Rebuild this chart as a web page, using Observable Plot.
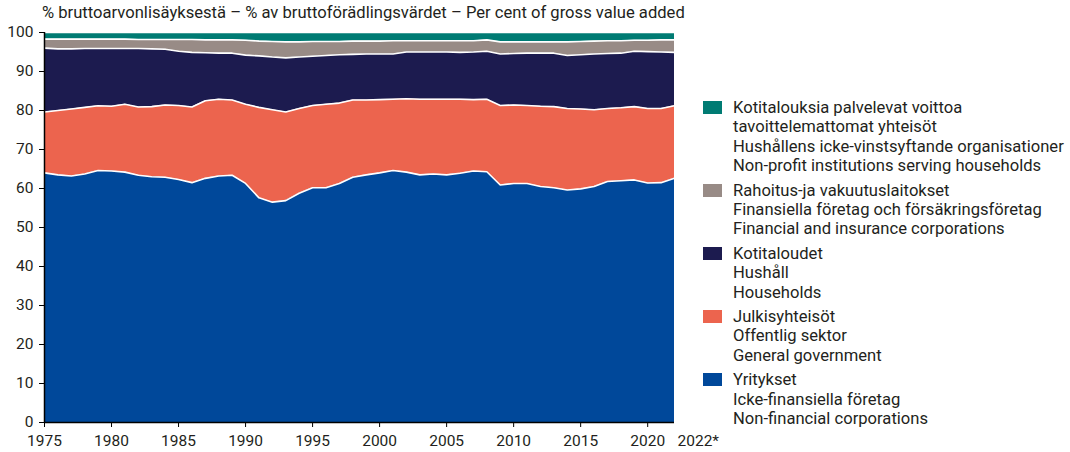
<!DOCTYPE html>
<html>
<head>
<meta charset="utf-8">
<script src="https://cdn.jsdelivr.net/npm/d3@7"></script>
<script src="https://cdn.jsdelivr.net/npm/@observablehq/plot@0.6"></script>
<style>
  html, body { margin: 0; padding: 0; background: #fff; }
  body { width: 1070px; height: 452px; position: relative; overflow: hidden; font-family: Roboto, "Noto Sans", sans-serif; color: #231F20; }
  #title { position: absolute; left: 42px; top: 3px; font-size: 16.6px; white-space: nowrap; }
  #chart { position: absolute; left: 0; top: 0; }
  #legend { position: absolute; left: 703px; top: 98px; font-size: 16.6px; line-height: 19.4px; }
  .item { position: relative; padding-left: 30px; margin-bottom: 5px; white-space: nowrap; }
  .sw { position: absolute; left: 0; top: 3px; width: 19px; height: 13px; }
</style>
</head>
<body>
<div id="title">% bruttoarvonlisäyksestä – % av bruttoförädlingsvärdet – Per cent of gross value added</div>
<div id="chart"></div>
<div id="legend"></div>
<script>
const years = d3.range(1975, 2023);

// Shares of gross value added, %
const nonFinancial = [64.0,63.5,63.2,63.7,64.6,64.5,64.2,63.4,63.0,62.9,
  62.3,61.5,62.6,63.2,63.4,61.3,57.6,56.5,56.9,58.8,
  60.2,60.2,61.3,62.9,63.5,64.0,64.6,64.2,63.5,63.7,
  63.5,63.9,64.5,64.3,60.9,61.3,61.3,60.5,60.2,59.6,
  59.9,60.5,61.8,62.0,62.2,61.4,61.5,62.6];
const generalGov = [15.6,16.5,17.2,17.1,16.6,16.6,17.4,17.5,18.0,18.5,
  19.0,19.4,19.9,19.7,19.3,20.3,23.2,23.7,22.7,21.7,
  21.1,21.4,20.6,19.8,19.2,18.8,18.3,18.8,19.4,19.2,
  19.4,19.0,18.3,18.6,20.4,20.1,20.0,20.6,20.8,20.9,
  20.5,19.7,18.7,18.7,18.8,19.1,19.0,18.6];
const households = [16.4,15.8,15.4,15.1,14.7,14.8,14.3,15.0,14.8,14.3,
  13.9,14.0,12.3,11.8,12.0,12.6,13.2,13.5,13.9,13.2,
  12.6,12.5,12.4,11.7,11.8,11.7,11.6,12.0,12.1,12.1,
  12.1,12.0,12.2,12.3,13.2,13.2,13.4,13.6,13.7,13.6,
  13.9,14.3,14.1,14.0,14.2,14.6,14.5,13.7];
const financial = [2.3,2.5,2.5,2.4,2.4,2.4,2.4,2.3,2.4,2.5,
  3.0,3.3,3.3,3.4,3.4,3.8,3.8,4.0,4.1,3.9,
  3.8,3.6,3.4,3.4,3.3,3.3,3.4,2.9,2.9,2.9,
  2.9,3.0,2.9,2.9,3.1,3.0,2.9,2.9,2.9,3.5,
  3.4,3.3,3.3,3.2,2.8,2.9,3.1,3.2];
const npish = [1.7,1.7,1.7,1.7,1.7,1.7,1.7,1.8,1.8,1.8,
  1.8,1.8,1.9,1.9,1.9,2.0,2.2,2.3,2.4,2.4,
  2.3,2.3,2.3,2.2,2.2,2.2,2.1,2.1,2.1,2.1,
  2.1,2.1,2.1,1.9,2.4,2.4,2.4,2.4,2.4,2.4,
  2.3,2.2,2.1,2.1,2.0,2.0,1.9,1.9];

const sectorKeys = ["nonFinancial", "generalGov", "households", "financial", "npish"];
const sectorColors = ["#00489A", "#EC644E", "#1C1B4F", "#988B86", "#007B73"];
const legendLabels = [
  ["Kotitalouksia palvelevat voittoa", "tavoittelemattomat yhteisöt", "Hushållens icke-vinstsyftande organisationer", "Non-profit institutions serving households"],
  ["Rahoitus-ja vakuutuslaitokset", "Finansiella företag och försäkringsföretag", "Financial and insurance corporations"],
  ["Kotitaloudet", "Hushåll", "Households"],
  ["Julkisyhteisöt", "Offentlig sektor", "General government"],
  ["Yritykset", "Icke-finansiella företag", "Non-financial corporations"]
];
const xTicks = [1975,1980,1985,1990,1995,2000,2005,2010,2015,2020];
const yTicks = [0,10,20,30,40,50,60,70,80,90,100];
const lastLabel = "2022*";

const seriesValues = [nonFinancial, generalGov, households, financial, npish];
const data = [];
sectorKeys.forEach((k, i) => {
  years.forEach((yr, j) => data.push({ year: yr, sector: k, value: seriesValues[i][j] }));
});

const chart = Plot.plot({
  width: 730,
  height: 452,
  marginLeft: 44,
  marginRight: 56,
  marginTop: 32,
  marginBottom: 30,
  style: { fontFamily: "Roboto, sans-serif", fontSize: "15.5px", color: "#231F20", background: "transparent" },
  x: { domain: [1975, 2022], label: null },
  y: { domain: [0, 100], label: null },
  color: { domain: sectorKeys, range: sectorColors },
  marks: [
    Plot.areaY(data, { x: "year", y: "value", z: "sector", fill: "sector", order: sectorKeys, curve: "linear" }),
    Plot.lineY(data, Plot.stackY2({ x: "year", y: "value", z: "sector", order: sectorKeys, stroke: "white", strokeWidth: 1.6 })),
    Plot.axisY({ ticks: yTicks, tickSize: 5, tickPadding: 6, tickFormat: d => String(d), stroke: "#000", fontSize: 15.5 }),
    Plot.axisX({ ticks: xTicks, tickSize: 5, tickPadding: 7, tickFormat: d => String(d), stroke: "#000", fontSize: 15.5 }),
    Plot.ruleX([1975], { stroke: "#000", strokeWidth: 1.5 }),
    Plot.ruleY([0], { stroke: "#000", strokeWidth: 1.5 }),
    Plot.text([2022], { x: d => d, y: 0, text: () => lastLabel, textAnchor: "start", dx: 3, dy: 18.5, fontSize: 15.5, fill: "#231F20" })
  ]
});
document.getElementById("chart").appendChild(chart);

const legend = document.getElementById("legend");
const legendColors = sectorColors.slice().reverse();
legendLabels.forEach((lines, i) => {
  const item = document.createElement("div");
  item.className = "item";
  const sw = document.createElement("div");
  sw.className = "sw";
  sw.style.background = legendColors[i];
  item.appendChild(sw);
  lines.forEach(t => {
    const l = document.createElement("div");
    l.textContent = t;
    item.appendChild(l);
  });
  legend.appendChild(item);
});
</script>
</body>
</html>
